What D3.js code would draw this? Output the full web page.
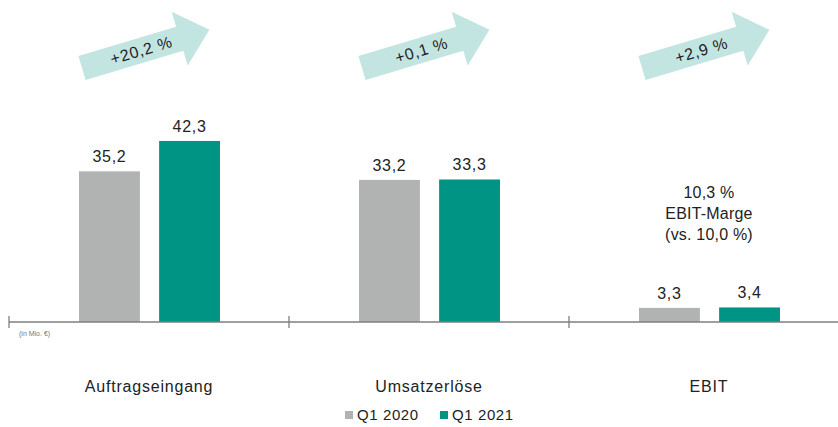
<!DOCTYPE html>
<html><head><meta charset="utf-8">
<script src="https://cdn.jsdelivr.net/npm/d3@7/dist/d3.min.js"></script>
<style>body{margin:0;background:#fff}svg{display:block;font-family:"Liberation Sans",Arial,sans-serif}</style>
</head><body><svg id="c" width="838" height="427"></svg>
<script>
const categories = ["Auftragseingang", "Umsatzerlöse", "EBIT"];
const series = ["Q1 2020", "Q1 2021"];
const q1_2020 = [35.2, 33.2, 3.3];
const q1_2021 = [42.3, 33.3, 3.4];
const changeLabels = ["+20,2 %", "+0,1 %", "+2,9 %"];
const marginNote = ["10,3 %", "EBIT-Marge", "(vs. 10,0 %)"];
const unitLabel = "(in Mio. €)";

const colors = {"Q1 2020": "#b1b3b2", "Q1 2021": "#009485"};
const svg = d3.select("#c");

const x = d3.scaleBand().domain(categories).range([9, 849]);
const x1 = d3.scaleBand().domain(series).range([70, 211]).paddingInner(0.24);
const y = d3.scaleLinear().domain([0, 50]).range([322, 108]);

const data = categories.map((c, i) => ({cat: c, vals: [
  {s: series[0], v: q1_2020[i]}, {s: series[1], v: q1_2021[i]}]}));

const fmt = v => d3.format(".1f")(v).replace(".", ",");
const LS = 0.7;

// arrows
const arrowPath = "M0,-12.5 L102,-12.5 L102,-28 L133,0 L102,28 L102,12.5 L0,12.5 Z";
categories.forEach((c, i) => {
  const cx = x(c) + x.bandwidth() / 2;
  const g = svg.append("g").attr("transform", `translate(${cx - 67},68) rotate(-16.7)`);
  g.append("path").attr("d", arrowPath).attr("fill", "#c3e5e2");
  g.append("text").attr("x", 62).attr("y", 0).attr("dy", "0.35em")
    .attr("text-anchor", "middle").attr("font-size", 16).attr("letter-spacing", LS).attr("fill", "#222")
    .text(changeLabels[i]);
});

// bars
const groups = svg.selectAll("g.cat").data(data).join("g").attr("class", "cat")
  .attr("transform", d => `translate(${x(d.cat)},0)`);
groups.selectAll("rect").data(d => d.vals).join("rect")
  .attr("x", d => x1(d.s)).attr("width", x1.bandwidth())
  .attr("y", d => y(d.v)).attr("height", d => y(0) - y(d.v))
  .attr("fill", d => colors[d.s]);
groups.selectAll("text.val").data(d => d.vals).join("text").attr("class", "val")
  .attr("x", d => x1(d.s) + x1.bandwidth() / 2).attr("y", d => y(d.v) - 9)
  .attr("text-anchor", "middle").attr("font-size", 16).attr("letter-spacing", LS).attr("fill", "#222")
  .text(d => fmt(d.v));

// axis
svg.append("line").attr("x1", 9).attr("x2", 838).attr("y1", y(0)).attr("y2", y(0))
  .attr("stroke", "#7f7f7f").attr("stroke-width", 1.3);
categories.forEach(c => {
  svg.append("line").attr("x1", x(c)).attr("x2", x(c)).attr("y1", y(0) - 6).attr("y2", y(0) + 6)
    .attr("stroke", "#7f7f7f").attr("stroke-width", 1.3);
});
svg.append("text").attr("x", 19).attr("y", 336).attr("font-size", 7).attr("fill", "#777").text(unitLabel);

// category labels
svg.selectAll("text.cat").data(categories).join("text").attr("class", "cat")
  .attr("x", d => x(d) + x.bandwidth() / 2).attr("y", 392)
  .attr("text-anchor", "middle").attr("font-size", 16).attr("letter-spacing", 0.8).attr("fill", "#222").text(d => d);

// EBIT margin note
const ex = x("EBIT") + x.bandwidth() / 2;
marginNote.forEach((t, i) => {
  svg.append("text").attr("x", ex).attr("y", 198 + i * 21).attr("text-anchor", "middle")
    .attr("font-size", 16).attr("letter-spacing", 0.2).attr("fill", "#222").text(t);
});

// legend
const leg = svg.append("g");
const legX = [345, 440];
series.forEach((s, i) => {
  leg.append("rect").attr("x", legX[i]).attr("y", 411).attr("width", 8).attr("height", 8).attr("fill", colors[s]);
  leg.append("text").attr("x", legX[i] + 12).attr("y", 420).attr("font-size", 15).attr("letter-spacing", 0.6).attr("fill", "#222").text(s);
});
</script></body></html>
